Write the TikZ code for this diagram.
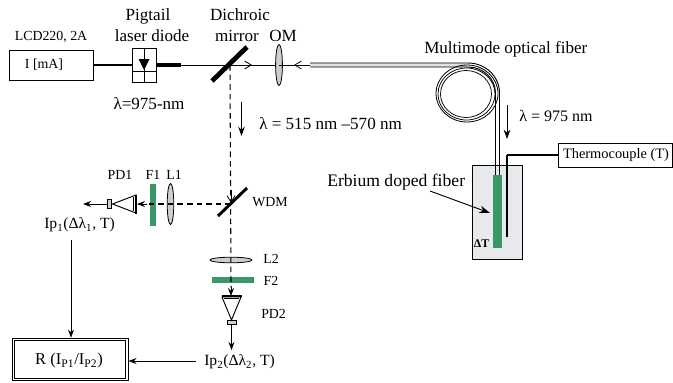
\documentclass[tikz,border=0pt]{standalone}
\usepackage{fontspec}
\setmainfont{Liberation Serif}
\usetikzlibrary{arrows.meta,calc}
\definecolor{egreen}{RGB}{58,152,104}
\definecolor{cellgray}{RGB}{232,233,236}
\definecolor{lensgray}{RGB}{205,206,208}
\tikzset{
 lbl/.style={inner sep=0pt,font=\fontsize{12.8}{14}\selectfont},
 lblsmall/.style={inner sep=0pt,font=\fontsize{10.4}{12}\selectfont},
 lbliP/.style={inner sep=0pt,font=\fontsize{11.7}{13}\selectfont},
 boxed/.style={draw=black,line width=0.75pt,fill=white,inner sep=0pt},
 lens/.style={draw=black,line width=0.6pt,fill=lensgray},
 greenbar/.style={fill=egreen,draw=none,inner sep=0pt},
 beam/.style={line width=0.8pt,dash pattern=on 4.2pt off 3pt},
 thin arrow/.style={line width=0.55pt,-{Stealth[length=6pt,width=4.5pt]}},
 chev/.style={line width=0.6pt,-{Straight Barb[length=5pt,width=6pt]}},
 sensor/.style={draw=black,line width=0.7pt,fill=white},
}
\begin{document}
\begin{tikzpicture}[x=0.75pt,y=-0.75pt]
\useasboundingbox (0,0) rectangle (673,382);
% labels top
\node[lblsmall] at (51,37) {LCD220, 2A};
\node[lbl] at (148,16) {Pigtail};
\node[lbl] at (152,36) {laser diode};
\node[lbl] at (240,15) {Dichroic};
\node[lbl] at (237,36) {mirror};
\node[lbl] at (283,36) {OM};
\node[lbl] at (149,104) {λ=975-nm};
\node[lbl,anchor=west] at (259,124) {λ = 515 nm –570 nm};
\node[lbl,anchor=west] at (424,49) {Multimode optical fiber};
\node[lbl,font=\fontsize{12}{14}\selectfont,anchor=west] at (519,116) {λ = 975 nm};
% source
\node[boxed,minimum width=63pt,minimum height=22.5pt] (src) at (51,65) {};
\node[lblsmall] at (44,65) {I [mA]};
\node[boxed,line width=0.7pt,minimum width=18pt,minimum height=25.5pt] (ld) at (144,65) {};
\draw[line width=1.1pt] (src.east) -- (ld.west);
\draw[line width=0.6pt] (ld.north) -- (ld.south);
\draw[line width=0.6pt] (ld.west |- 0,71) -- (ld.east |- 0,71);
\fill (138.5,59) -- (149.5,59) -- (144,70) -- cycle;
\coordinate (ldend) at (181,65);
\draw[line width=2.4pt] (ld.east) -- (ldend);
% mirror 1
\coordinate (m1a) at (212,81);
\coordinate (m1b) at (247,47);
\coordinate (m1) at (230,65);
\coordinate (om) at (279,65);
\draw[line width=0.6pt] (ldend) -- (om);
\draw[line width=3.6pt] (m1a) -- (m1b);
\draw[chev] (m1) -- (252,65);
\draw[lens] (om) ellipse (3.4 and 20.5);
\coordinate (fibstart) at (310,65);
\draw[line width=0.6pt] (om) -- (fibstart);
\draw[chev] (310,65) -- (294,65);
% fiber
\fill[lensgray!60] (310,63) rectangle (468,67);
\draw[line width=0.7pt] (310,63) -- (468,63) arc[start angle=-90,end angle=0,x radius=31.5,y radius=30] -- (499.5,175);
\draw[line width=0.7pt] (310,67) -- (468,67) arc[start angle=-90,end angle=0,x radius=27.5,y radius=26] -- (495.5,175);
\draw[line width=0.6pt] (467,93.5) ellipse (31 and 28.5);
\draw[line width=0.55pt] (466.5,94) ellipse (28.5 and 26);
\draw[line width=0.55pt] (466,94) ellipse (25.5 and 23.5);
% lambda arrows
\coordinate (la1) at (241.5,102);
\coordinate (la2) at (241.5,136);
\draw[line width=0.7pt,-{Stealth[length=7pt,width=5pt]}] (la1) -- (la2);
\coordinate (lb1) at (507,105);
\coordinate (lb2) at (507,139);
\draw[line width=0.7pt,-{Stealth[length=7pt,width=5pt]}] (lb1) -- (lb2);
% cell
\node[draw=black,line width=0.75pt,fill=cellgray,minimum width=37.5pt,minimum height=70.5pt,inner sep=0pt] (cell) at (497,212) {};
\node[greenbar,minimum width=6.6pt,minimum height=54.8pt] (edf) at (497.5,211.5) {};
\draw[line width=0.7pt] (495.5,165) -- (495.5,175) (499.5,165) -- (499.5,175);
\node[inner sep=0pt,font=\fontsize{8.8}{10}\selectfont\bfseries] at (481.5,244) {ΔT};
\node[boxed,minimum width=85.5pt,minimum height=18pt] (tc) at (615.5,155) {};
\node[lblsmall,font=\fontsize{10.8}{12}\selectfont] at (616,155) {Thermocouple (T)};
\coordinate (tcbend) at (507,155);
\coordinate (tcend) at (507,237);
\draw[line width=1.5pt] (tc.west) -- (tcbend);
\draw[line width=1.1pt] (tcbend) -- (tcend);
\node[lbl,font=\fontsize{13.2}{15}\selectfont,anchor=west] at (327,182) {Erbium doped fiber};
\coordinate (eda) at (430,191);
\coordinate (edb) at (490,213);
\draw[line width=0.7pt,-{Stealth[length=8pt,width=5.5pt]}] (eda) -- (edb);
% wdm branch, lenses and filters
\coordinate (wdm) at (231,204);
\coordinate (pd1top) at (137,204);
\node[greenbar,minimum width=4.5pt,minimum height=31.5pt] (f1) at (153,205) {};
\draw[lens] (170.5,204) ellipse (3.3 and 20.5);
\draw[beam] (wdm) -- (146,204);
\draw[line width=0.6pt,-{Stealth[length=6pt,width=4.5pt]}] (147,204) -- (pd1top);
\draw[lens] (231,260) ellipse (21 and 2.8);
\node[greenbar,minimum width=31.5pt,minimum height=4.5pt] (f2) at (233,279.5) {};
% main vertical beam
\coordinate (pd2top) at (231,296);
\draw[beam] (m1) -- (231,287);
\draw[line width=0.6pt,-{Stealth[length=6pt,width=4.5pt]}] (231,287) -- (pd2top);
\draw[line width=2.2pt] (218,216) -- (247,188);
\draw[chev] (231,190) -- (231,203);
\node[lblsmall,anchor=west] at (252,202) {WDM};
\node[lblsmall] at (120,175) {PD1};
\node[lblsmall] at (153,175) {F1};
\node[lblsmall] at (174,175) {L1};
% PD1
\coordinate (pd1tip) at (112.5,204);
\draw[sensor] (pd1tip) -- (136,195) -- (136,213) -- cycle;
\draw[line width=1.4pt] (136,194.5) -- (136,213.5);
\draw[line width=0.5pt] (133.5,197) -- (133.5,211);
\node[draw=black,line width=0.5pt,fill=lensgray,minimum width=2.7pt,minimum height=7pt,inner sep=0pt] (pd1s) at (109.5,204) {};
\coordinate (pd1out) at (83,204);
\draw[thin arrow,line width=0.7pt] (pd1s.west) -- (pd1out);
\node[lbliP,anchor=west] at (44,225) {Ip\textsubscript{1}(Δλ\textsubscript{1}, T)};
\node[lblsmall] at (271,259) {L2};
\node[lblsmall] at (271,281) {F2};
\node[lblsmall,anchor=west] at (261,314) {PD2};
% PD2
\draw[sensor] (222,297) -- (241,297) -- (231.5,320) -- cycle;
\draw[line width=1.4pt] (221.5,296) -- (241.5,296);
\draw[line width=0.5pt] (224,298.5) -- (239,298.5);
\node[draw=black,line width=0.5pt,fill=lensgray,minimum width=6.5pt,minimum height=2.7pt,inner sep=0pt] (pd2s) at (231.5,322.5) {};
\coordinate (pd2out) at (231.5,350);
\draw[thin arrow,line width=0.7pt] (pd2s.south) -- (pd2out);
\node[lbliP,anchor=west] at (204,362) {Ip\textsubscript{2}(Δλ\textsubscript{2}, T)};
% R
\node[draw=black,line width=0.75pt,fill=white,minimum width=87pt,minimum height=32pt,inner sep=0pt] (R) at (70,359.5) {};
\draw[line width=0.75pt] ($(R.north west)+(3,3)$) rectangle ($(R.south east)+(-3,-3)$);
\node[inner sep=0pt,font=\fontsize{12.4}{14}\selectfont] at (69,361) {R (I\textsubscript{P1}/I\textsubscript{P2})};
\coordinate (ipa) at (71,240);
\coordinate (ipb) at (196,361);
\draw[thin arrow] (ipa) -- (R.north -| ipa);
\draw[thin arrow] (ipb) -- (R.east |- ipb);
\end{tikzpicture}
\end{document}
